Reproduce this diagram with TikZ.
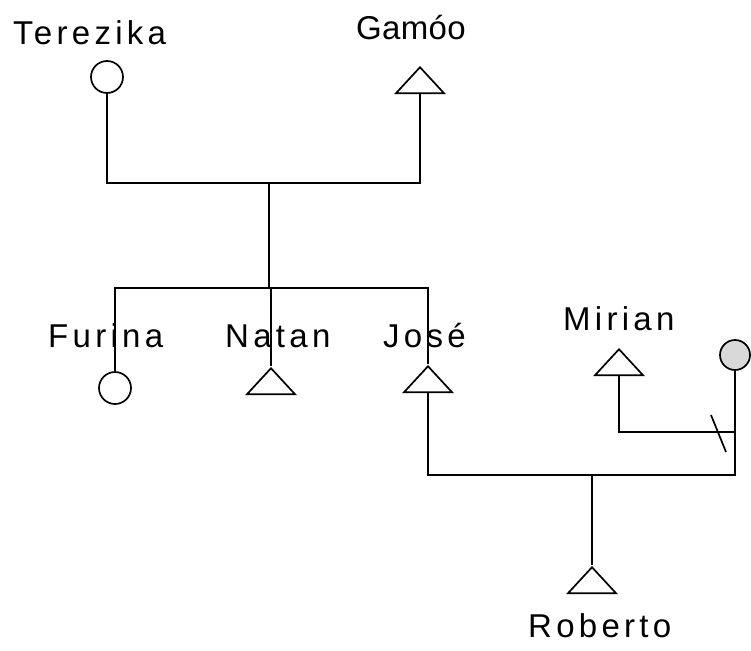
\documentclass[tikz,border=0pt]{standalone}
\usepackage{fontspec}
\setmainfont{Liberation Sans}[LetterSpace=13]
\usetikzlibrary{shapes.geometric}
\tikzset{
  line/.style={line width=1.7pt},
  female/.style={draw, line width=1.7pt, circle, minimum size=32pt, inner sep=0pt},
  male/.style={draw, line width=1.7pt, isosceles triangle, shape border rotate=90,
    isosceles triangle stretches, minimum width=48pt, minimum height=26pt, inner sep=0pt},
  lbl/.style={font=\fontsize{33}{36}\selectfont, inner sep=0pt, anchor=base west}
}
\begin{document}
\begin{tikzpicture}[x=1pt,y=-1pt]
\useasboundingbox (0,0) rectangle (751,650);
% people
\node[female] (terezika) at (107,77) {};
\node[male, anchor=apex] (gamao) at (420,65) {};
\node[female] (furina) at (115,388) {};
\node[male, anchor=apex] (natan) at (271,366) {};
\node[male, anchor=apex] (jose) at (428,364) {};
\node[male, anchor=apex] (mirian) at (619,347) {};
\node[female, fill=gray!30, minimum size=30pt] (wife) at (735,355) {};
\node[male, anchor=apex] (roberto) at (592,565) {};
% names
\node[lbl] (tterezika) at (13,45) {Terezika};
\node[lbl] (tgamao) at (356,40) {\addfontfeature{LetterSpace=1}Gamóo};
\node[lbl] (tfurina) at (48,347) {Furina};
\node[lbl] (tnatan) at (225,347) {Natan};
\node[lbl] (tjose) at (383,347) {José};
\node[lbl] (tmirian) at (563,330) {Mirian};
\node[lbl] (troberto) at (528,637) {Roberto};
% junctions
\coordinate (pm) at (269,183);
\coordinate (sib) at (269,288);
\coordinate (cm) at (592,475);
\coordinate (s1) at (711,415);
\coordinate (s2) at (726,452);
% parents
\draw[line] (terezika.south) -- (terezika.south |- pm) -- (gamao.south |- pm) -- (gamao.south);
\draw[line] (pm) -- (sib);
% siblings
\draw[line] (furina.north) -- (furina.north |- sib) -- (jose.apex |- sib) -- (jose.apex);
\draw[line] (natan.apex |- sib) -- (natan.apex);
% Jose marriage
\draw[line] (jose.south) -- (jose.south |- cm) -- (wife.south |- cm) -- (wife.south);
\draw[line] (cm) -- (roberto.apex);
% Mirian marriage (divorced)
\draw[line] (mirian.south) -- (mirian.south |- 0,432) -- (wife.south |- 0,432);
\draw[line] (s1) -- (s2);
\end{tikzpicture}
\end{document}
